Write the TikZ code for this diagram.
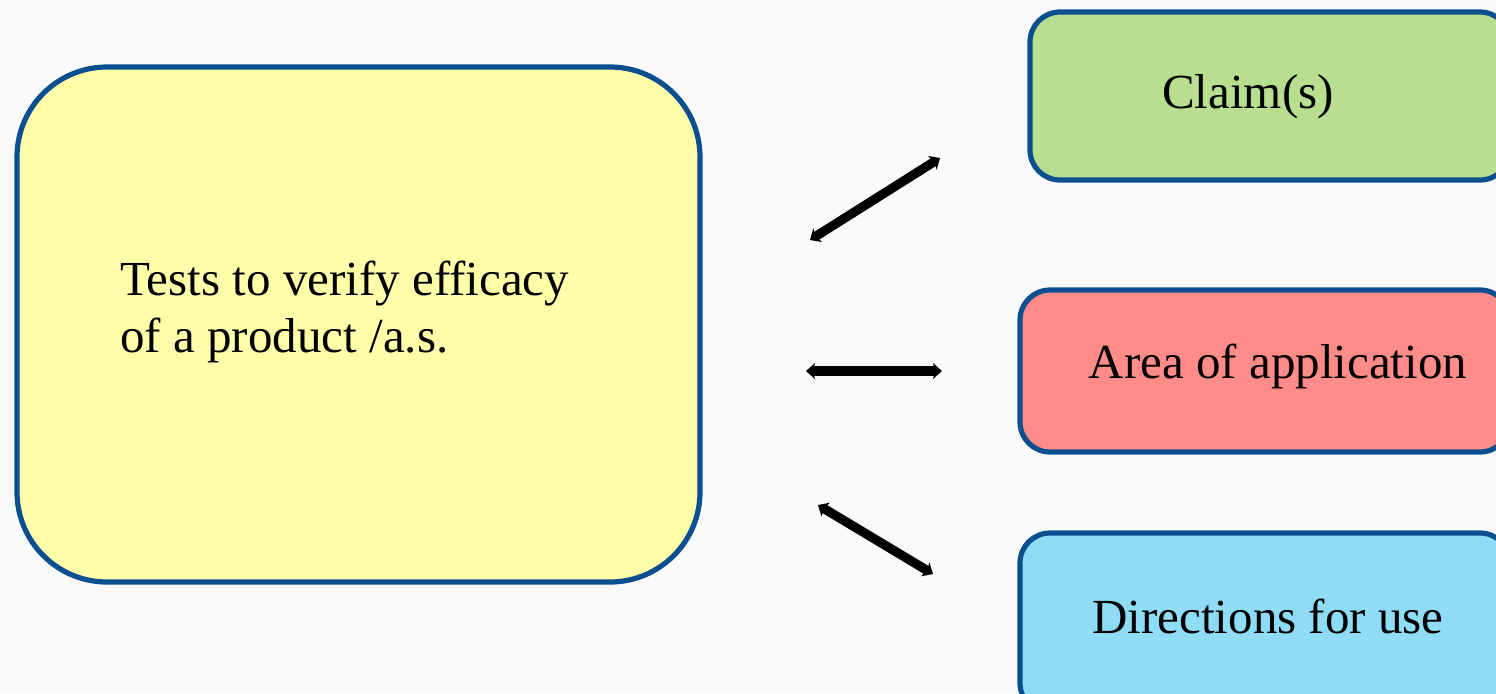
\documentclass[tikz,border=0pt]{standalone}
\usepackage{fontspec}
\setmainfont{Liberation Serif}
\usetikzlibrary{arrows.meta}
\definecolor{bord}{HTML}{0B4F91}
\definecolor{yel}{HTML}{FFFFAA}
\definecolor{grn}{HTML}{B8DF8F}
\definecolor{rd}{HTML}{FF8C88}
\definecolor{blu}{HTML}{8EDCF6}
\definecolor{bg}{HTML}{FAFAFA}
\tikzset{
  px/.style={x=0.5pt,y=-0.5pt},
  box/.style={draw=bord, line width=2.6pt, rounded corners=#1, inner sep=0pt},
  txt/.style={font=\fontsize{24.5}{28.5}\selectfont, inner sep=0pt},
  dbl/.style={line width=4.6pt, {Stealth[length=4.5pt,width=8pt,inset=1pt]}-{Stealth[length=4.5pt,width=8pt,inset=1pt]}}
}
\begin{document}
\begin{tikzpicture}[px]
\useasboundingbox (0,0) rectangle (1496,693);
\clip (0,0) rectangle (1496,693);
\fill[bg] (0,0) rectangle (1496,693);
\node[box=45pt, fill=yel, minimum width=341.5pt, minimum height=257.5pt] (main) at (358.5,324.5) {};
\node[txt, anchor=west, align=left] (maintxt) at (120,312) {Tests to verify efficacy\\of a product /a.s.};
\node[box=15pt, fill=grn, minimum width=240pt, minimum height=84pt] (claim) at (1270,96) {};
\node[txt] (claimtxt) at (1248,97) {Claim(s)};
\node[box=15pt, fill=rd, minimum width=245pt, minimum height=81pt] (area) at (1265,371) {};
\node[txt] (areatxt) at (1278,366) {Area of application};
\node[box=15pt, fill=blu, minimum width=245pt, minimum height=90pt] (dir) at (1265,623) {};
\node[txt] (dirtxt) at (1268,616) {Directions for use};
\coordinate (a1s) at (810,240);
\coordinate (a1e) at (940,158);
\coordinate (a2s) at (806,371);
\coordinate (a2e) at (942,371);
\coordinate (a3s) at (818,505);
\coordinate (a3e) at (933,574);
\draw[dbl] (a1s) -- (a1e);
\draw[dbl] (a2s) -- (a2e);
\draw[dbl] (a3s) -- (a3e);
\end{tikzpicture}
\end{document}
